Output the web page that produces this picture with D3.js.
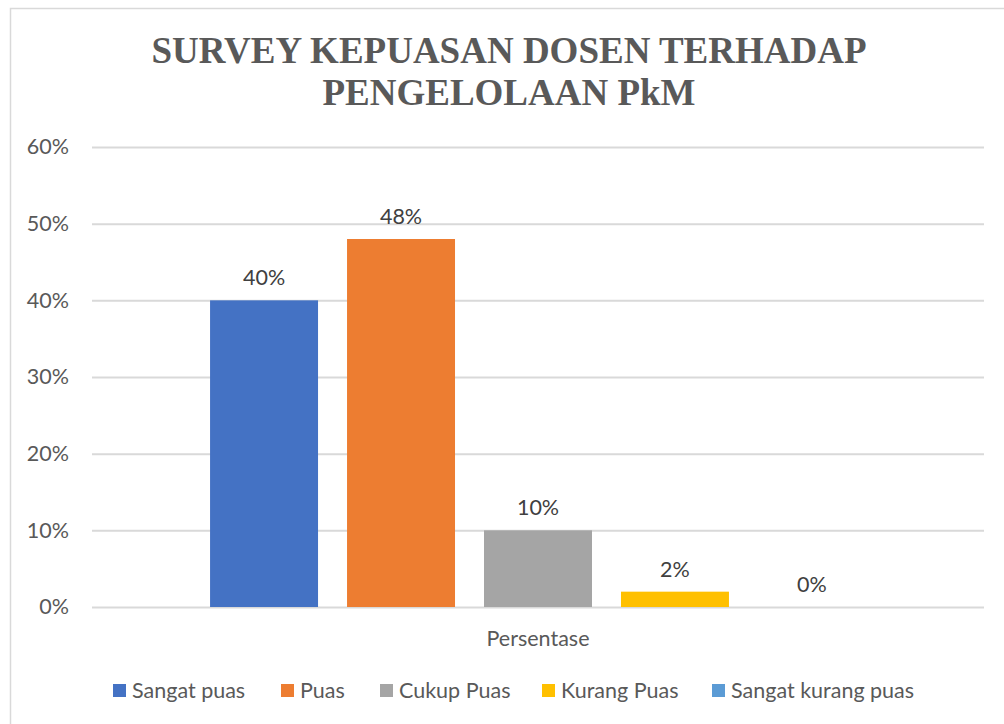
<!DOCTYPE html>
<html><head><meta charset="utf-8">
<script src="https://cdn.jsdelivr.net/npm/d3@7"></script>
<style>body{margin:0;background:#fff}svg{display:block}</style>
</head><body>
<svg id="c" width="1004" height="724"></svg>
<script>
const categories = ["Sangat puas","Puas","Cukup Puas","Kurang Puas","Sangat kurang puas"];
const values = [0.40,0.48,0.10,0.02,0.00];
const colors = ["#4472C4","#ED7D31","#A5A5A5","#FFC000","#5B9BD5"];
const yTicks = [0,0.1,0.2,0.3,0.4,0.5,0.6];
const titleLines = ["SURVEY KEPUASAN DOSEN TERHADAP","PENGELOLAAN PkM"];
const axisTitle = "Persentase";

const svg = d3.select("#c");
const font = "Lato, 'Open Sans', sans-serif";
const fs = 21.5;
svg.append("rect").attr("x",10.5).attr("y",8.5).attr("width",1200).attr("height",900)
  .attr("fill","#fff").attr("stroke","#d9d9d9").attr("stroke-width",1.5);

svg.selectAll("text.title").data(titleLines).join("text")
  .attr("x",509).attr("y",(d,i)=>63+i*42).attr("text-anchor","middle")
  .attr("font-family","'Liberation Serif','Times New Roman',serif").attr("font-weight","bold")
  .attr("font-size",37).attr("fill","#595959").text(d=>d);

const y = d3.scaleLinear().domain([0,0.6]).range([607,147]);
const x0 = d3.scaleBand().domain([axisTitle]).range([92,984]).paddingInner(0).paddingOuter(0.18);
const x = d3.scaleBand().domain(categories).range([x0(axisTitle), x0(axisTitle)+x0.bandwidth()]).paddingInner(0.2117).paddingOuter(0);

const yAxis = d3.axisLeft(y).tickValues(yTicks).tickFormat(d3.format(".0%")).tickSize(-(984-92)).tickPadding(23);
const ga = svg.append("g").attr("transform","translate(92,0)").call(yAxis);
ga.select(".domain").remove();
ga.selectAll(".tick line").attr("stroke","#d9d9d9").attr("stroke-width",2);
ga.selectAll(".tick text").attr("font-family",font).attr("font-size",fs).attr("fill","#595959");

svg.selectAll("rect.bar").data(categories).join("rect").attr("class","bar")
  .attr("x",d=>x(d)).attr("width",x.bandwidth())
  .attr("y",(d,i)=>y(values[i])).attr("height",(d,i)=>y(0)-y(values[i]))
  .attr("fill",(d,i)=>colors[i]);

svg.selectAll("text.lbl").data(categories).join("text").attr("class","lbl")
  .attr("x",d=>x(d)+x.bandwidth()/2).attr("y",(d,i)=>y(values[i])-15)
  .attr("text-anchor","middle").attr("font-family",font).attr("font-size",fs).attr("fill","#404040")
  .text((d,i)=>d3.format(".0%")(values[i]));

svg.append("text").attr("x",538).attr("y",646).attr("text-anchor","middle")
  .attr("font-family",font).attr("font-size",fs).attr("fill","#595959").text(axisTitle);

// legend
const legX = [113,281,380,542,712];
const lg = svg.selectAll("g.leg").data(categories).join("g").attr("class","leg")
  .attr("transform",(d,i)=>`translate(${legX[i]},684)`);
lg.append("rect").attr("width",13).attr("height",13).attr("fill",(d,i)=>colors[i]);
lg.append("text").attr("x",19).attr("y",14).attr("font-family",font).attr("font-size",fs)
  .attr("fill","#595959").text(d=>d);
</script>
</body></html>
